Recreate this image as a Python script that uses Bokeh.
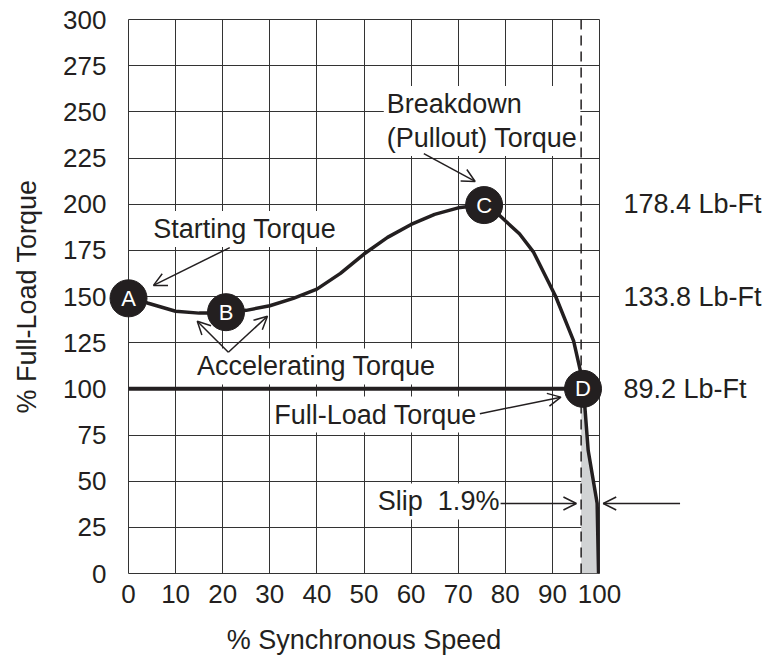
from bokeh.plotting import figure
from bokeh.models import Range1d, LinearAxis, FixedTicker, Label, Arrow, OpenHead, Span
from bokeh.core.properties import value
from bokeh.embed import file_html
from bokeh.resources import INLINE

# ---- data ----
speed = [0, 4, 10, 15, 20, 25, 30, 35, 40, 45, 50, 55, 60, 65, 70, 75, 77.5, 80, 83, 86,
         90.7, 94.5, 96.1, 96.6, 97.6, 99.5, 99.8]
torque = [150, 146.5, 142, 141, 141, 142.5, 145, 149, 154, 162.5, 173, 182, 189, 194.5,
          198, 199.5, 197, 191, 184, 174, 150, 126, 108, 100, 66.6, 38, 0]
point_names = ["A", "B", "C", "D"]
point_speed = [0, 20.7, 75.5, 96.5]
point_torque = [149, 141.5, 199.5, 100]
full_load_speed = [0, 96.5]
full_load_torque = [100, 100]
slip_speed = 96.1
x_ticks = list(range(0, 101, 10))
y_ticks = list(range(0, 301, 25))
lbft_levels = [200, 150, 100]
lbft_labels = ["178.4 Lb-Ft", "133.8 Lb-Ft", "89.2 Lb-Ft"]

FONT = "Liberation Sans"
INK = "#231f20"
GRID = "#333333"
FS = "26px"
AFS = "27px"

p = figure(width=764, height=657, x_range=Range1d(0, 100), y_range=Range1d(0, 300),
           output_backend="svg", toolbar_location=None,
           min_border_left=128, min_border_right=162, min_border_top=19, min_border_bottom=84,
           background_fill_color="white", border_fill_color="white",
           outline_line_color=GRID, outline_line_width=1)

p.xaxis.ticker = FixedTicker(ticks=x_ticks)
p.yaxis.ticker = FixedTicker(ticks=y_ticks)
p.xaxis.axis_label = "% Synchronous Speed"
p.yaxis.axis_label = "% Full-Load Torque"

r_axis = LinearAxis(ticker=FixedTicker(ticks=lbft_levels),
                    major_label_overrides={lv: lb for lv, lb in zip(lbft_levels, lbft_labels)})
p.add_layout(r_axis, "right")

for ax in p.axis:
    ax.axis_line_color = None
    ax.major_tick_line_color = None
    ax.minor_tick_line_color = None
    ax.major_tick_out = 0
    ax.major_tick_in = 0
    ax.major_label_text_font = FONT
    ax.major_label_text_font_size = FS
    ax.major_label_text_color = INK
    ax.axis_label_text_font = FONT
    ax.axis_label_text_font_size = AFS
    ax.axis_label_text_font_style = "normal"
    ax.axis_label_text_color = INK

p.xaxis.major_label_standoff = 11
p.xaxis.axis_label_standoff = 19
p.yaxis.major_label_standoff = 22
p.yaxis.axis_label_standoff = 18
r_axis.major_label_standoff = 24
r_axis.major_label_text_font_size = AFS

p.grid.grid_line_color = GRID
p.grid.grid_line_width = 1

# shaded slip area between the synchronous-speed line and the curve
shade_y = [t for s, t in zip(speed, torque) if s >= slip_speed]
shade_x2 = [s for s in speed if s >= slip_speed]
p.harea(y=shade_y, x1=[slip_speed] * len(shade_y), x2=shade_x2, fill_color="#d1d3d4")

# curves
p.line(full_load_speed, full_load_torque, line_width=4, line_color=INK)
p.line(speed, torque, line_width=3.5, line_color=INK)


def lab(x, y, text, baseline="middle", lh=1.2):
    p.add_layout(Label(x=x, y=y, text=text, text_font=FONT, text_font_size=AFS,
                       text_color=INK, text_align="left", text_baseline=baseline,
                       text_line_height=lh,
                       background_fill_color="white", padding=3))


def arr(x0, y0, x1, y1):
    p.add_layout(Arrow(end=OpenHead(size=13, line_width=1.5, line_color=INK),
                       x_start=x0, y_start=y0, x_end=x1, y_end=y1,
                       line_width=1.5, line_color=INK))


lab(4.6, 186.5, "Starting Torque")
arr(21.5, 176.5, 5.3, 156.0)

lab(54.2, 264.0, "Breakdown\n(Pullout) Torque", baseline="top", lh=1.13)
arr(62.7, 227.4, 73.6, 212.3)

lab(13.9, 112.1, "Accelerating Torque")
arr(21.2, 119.8, 14.6, 136.6)
arr(21.2, 119.8, 29.5, 139.3)

lab(30.3, 86.1, "Full-Load Torque")
arr(74.6, 86.5, 91.8, 95.5)

lab(52.3, 39.0, "Slip\u00a0\u00a01.9%")
arr(79.0, 37.9, 95.1, 37.9)
# arrow to the right of the frame (drawn at overlay level so it is not clipped)
p.multi_line(xs=[[117.1, 100.8], [103.55, 100.8, 103.55]],
             ys=[[37.9, 37.9], [41.42, 37.9, 34.38]],
             line_width=1.5, line_color=INK, level="overlay")

# synchronous speed dashed line
p.add_layout(Span(location=slip_speed, dimension="height", line_color=INK,
                  line_width=1.5, line_dash="10 6"))

# lettered points
p.scatter(point_speed, point_torque, size=37, fill_color=INK, line_color=INK, level="overlay")
p.text(point_speed, point_torque, text=point_names, text_align="center", text_baseline="middle",
       text_color="white", text_font=value(FONT), text_font_size="22px", level="overlay")

open("out.html", "w").write(file_html(p, INLINE))
